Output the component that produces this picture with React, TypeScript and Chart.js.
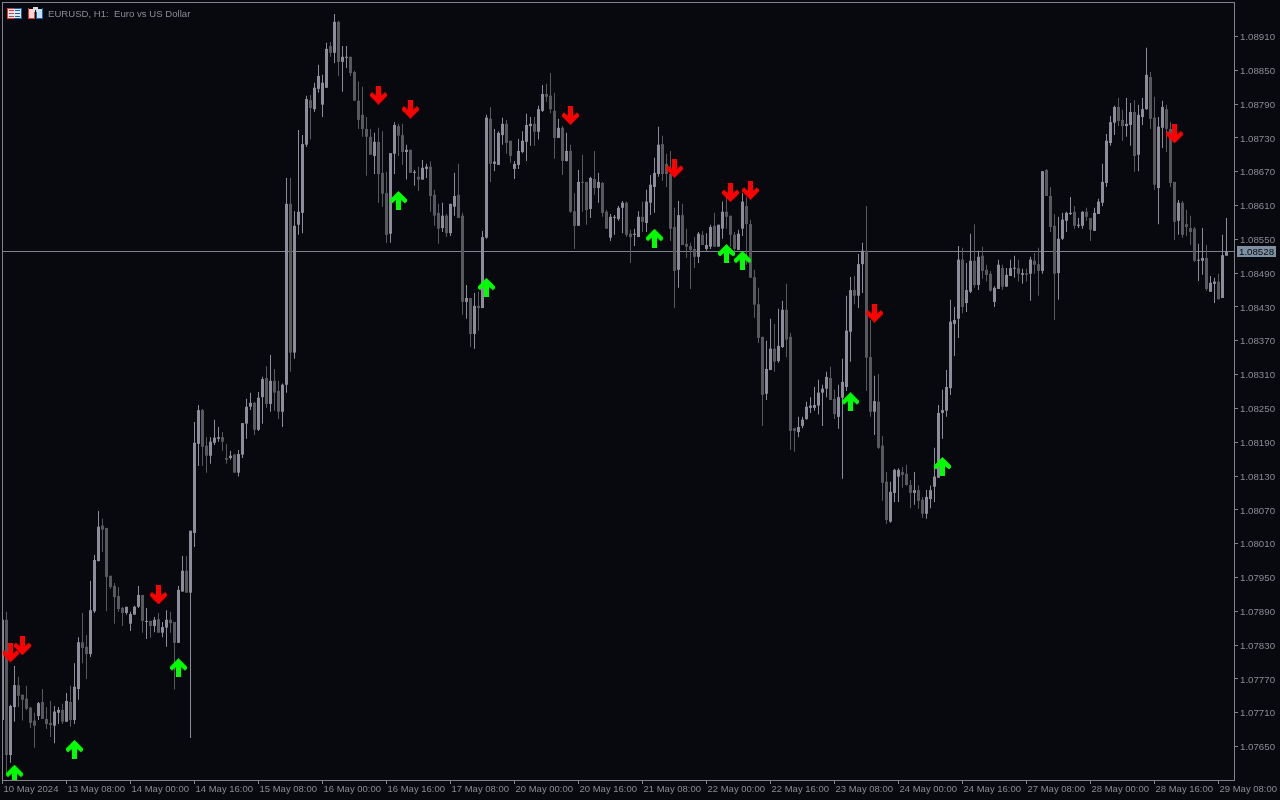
import React, { useEffect, useRef } from "react";
import { Chart, registerables } from "chart.js";

Chart.register(...registerables);

const POINT = 1e-5;

const opens = [
107697,107875,107635,107720,107759,107742,107735,107719,107696,107704,
107729,107699,107692,107687,107710,107715,107694,107729,107697,107752,
107835,107827,107814,107890,107979,108042,108038,107953,107935,107917,
107896,107887,107868,107884,107898,107919,107871,107873,107864,107876,
107852,107861,107875,107871,107834,107925,107962,107923,108029,108187,
108247,108184,108166,108189,108196,108199,108162,108162,108168,108136,
108168,108223,108253,108260,108212,108270,108304,108258,108299,108281,
108244,108292,108613,108349,108576,108597,108718,108797,108781,108817,
108789,108819,108893,108881,108936,108865,108872,108874,108847,108796,
108771,108746,108732,108698,108723,108668,108632,108560,108702,108751,
108735,108705,108709,108668,108661,108656,108675,108679,108629,108597,
108570,108592,108561,108608,108629,108592,108439,108446,108382,108432,
108428,108553,108764,108684,108682,108735,108755,108725,108675,108682,
108705,108723,108751,108755,108741,108778,108808,108805,108778,108730,
108748,108689,108707,108600,108574,108652,108652,108604,108657,108641,
108650,108599,108553,108588,108586,108606,108615,108560,108558,108554,
108590,108579,108615,108643,108666,108719,108684,108666,108572,108496,
108593,108542,108538,108533,108519,108558,108533,108537,108574,108537,
108569,108599,108592,108558,108531,108569,108609,108577,108483,108435,
108377,108276,108318,108356,108334,108359,108425,108377,108215,108208,
108219,108231,108251,108251,108255,108278,108285,108304,108267,108235,
108269,108288,108386,108460,108450,108506,108530,108341,108244,108262,
108184,108120,108049,108100,108129,108137,108134,108114,108100,108105,
108088,108063,108089,108111,108127,108242,108246,108286,108400,108409,
108514,108437,108457,108512,108469,108521,108496,108489,108439,108462,
108499,108466,108485,108498,108499,108487,108490,108489,108512,108506,
108494,108673,108627,108574,108490,108551,108583,108595,108599,108574,
108574,108599,108588,108565,108595,108615,108650,108721,108757,108785,
108762,108751,108753,108776,108700,108767,108781,108838,108766,108641,
108748,108781,108746,108652,108583,108615,108577,108570,108569,108512,
108512,108517,108457,108471,108475,108446,108521,
];

const closes = [
107875,107635,107722,107759,107740,107733,107717,107692,107687,107727,
107699,107690,107688,107712,107715,107694,107731,107697,107756,107835,
107825,107814,107892,107981,108040,108035,107951,107933,107915,107894,
107887,107898,107885,107898,107919,107873,107873,107864,107875,107852,
107862,107875,107869,107834,107928,107962,107923,108033,108189,108247,
108182,108166,108191,108198,108199,108191,108159,108166,108136,108169,
108224,108253,108260,108212,108269,108302,108258,108299,108278,108244,
108292,108613,108349,108574,108599,108719,108799,108783,108819,108840,
108828,108888,108881,108936,108865,108874,108874,108845,108796,108762,
108746,108732,108700,108723,108666,108631,108558,108703,108753,108734,
108705,108709,108668,108670,108656,108677,108679,108627,108592,108569,
108592,108561,108613,108627,108588,108439,108446,108382,108432,108428,
108554,108766,108684,108688,108739,108755,108721,108698,108684,108707,
108725,108753,108755,108741,108781,108808,108803,108781,108730,108748,
108689,108707,108599,108574,108652,108650,108602,108659,108641,108652,
108597,108569,108590,108590,108606,108615,108558,108554,108560,108590,
108581,108617,108647,108668,108718,108666,108666,108569,108494,108593,
108540,108537,108531,108519,108560,108540,108540,108572,108537,108576,
108599,108590,108558,108533,108560,108617,108577,108482,108434,108375,
108274,108320,108356,108333,108361,108425,108372,108210,108210,108217,
108230,108253,108255,108256,108278,108285,108306,108265,108240,108270,
108297,108388,108460,108450,108506,108530,108340,108244,108263,108180,
108118,108052,108102,108141,108141,108132,108114,108100,108105,108086,
108063,108093,108105,108129,108242,108247,108288,108404,108407,108514,
108430,108460,108512,108469,108519,108494,108487,108459,108464,108505,
108466,108487,108499,108499,108489,108490,108487,108514,108505,108494,
108671,108627,108572,108489,108551,108585,108597,108597,108574,108576,
108599,108590,108567,108597,108617,108652,108725,108758,108785,108760,
108751,108755,108776,108698,108771,108781,108842,108764,108647,108750,
108785,108746,108650,108581,108615,108558,108572,108563,108512,108514,
108517,108462,108473,108475,108444,108522,108528,
];

const highs = [
107889,107889,107724,107793,107774,107742,107758,107720,107710,107729,
107752,107720,107731,107722,107720,107726,107745,107758,107798,107844,
107887,107848,107944,107990,108068,108054,108038,107953,107940,107933,
107898,107898,107889,107900,107935,107919,107896,107873,107880,107887,
107871,107892,107889,107871,107935,107988,107988,108033,108226,108256,
108249,108199,108199,108230,108217,108208,108187,108175,108169,108176,
108224,108267,108278,108262,108279,108306,108325,108345,108320,108299,
108294,108659,108659,108600,108744,108735,108805,108806,108828,108860,
108842,108899,108900,108950,108938,108893,108893,108874,108849,108830,
108821,108767,108746,108739,108748,108742,108670,108703,108758,108755,
108755,108718,108709,108673,108679,108691,108684,108688,108638,108613,
108615,108595,108613,108668,108684,108597,108469,108446,108455,108457,
108565,108771,108785,108746,108742,108766,108762,108725,108689,108728,
108742,108773,108767,108767,108787,108824,108826,108845,108810,108764,
108751,108739,108718,108632,108673,108700,108652,108661,108707,108668,
108652,108602,108595,108593,108609,108618,108617,108567,108569,108600,
108617,108638,108664,108695,108750,108734,108702,108707,108606,108618,
108613,108569,108544,108554,108563,108565,108561,108576,108597,108576,
108617,108624,108592,108563,108567,108632,108625,108585,108496,108464,
108377,108370,108409,108400,108427,108441,108471,108384,108215,108235,
108235,108262,108270,108288,108301,108292,108315,108324,108283,108292,
108338,108450,108483,108485,108524,108544,108609,108407,108308,108311,
108201,108137,108120,108143,108144,108146,108150,108123,108137,108113,
108093,108105,108113,108180,108256,108283,108318,108443,108430,108538,
108535,108508,108560,108577,108530,108537,108505,108494,108467,108514,
108505,108499,108514,108521,108514,108498,108498,108519,108526,108535,
108671,108675,108643,108595,108590,108597,108599,108625,108609,108588,
108600,108606,108588,108606,108622,108684,108737,108769,108787,108801,
108780,108801,108792,108797,108789,108801,108890,108847,108803,108767,
108796,108789,108758,108652,108620,108618,108602,108592,108572,108542,
108570,108540,108485,108482,108489,108558,108588,
];

const lows = [
107697,107603,107621,107694,107720,107696,107715,107683,107648,107697,
107699,107681,107667,107656,107690,107690,107694,107685,107690,107733,
107798,107770,107809,107887,107979,107995,107890,107930,107868,107889,
107864,107884,107855,107884,107896,107852,107841,107843,107853,107852,
107844,107827,107852,107751,107834,107925,107923,107665,108004,108148,
108148,108136,108152,108185,108191,108175,108152,108159,108136,108129,
108162,108196,108247,108203,108210,108223,108251,108244,108246,108231,
108217,108278,108315,108338,108558,108561,108714,108727,108776,108810,
108767,108819,108874,108863,108840,108812,108854,108840,108796,108746,
108732,108663,108700,108666,108615,108608,108544,108544,108666,108698,
108682,108656,108668,108645,108636,108656,108659,108599,108574,108542,
108563,108554,108556,108592,108588,108416,108409,108359,108356,108388,
108428,108551,108652,108671,108682,108718,108702,108686,108657,108675,
108703,108689,108716,108716,108727,108776,108794,108774,108693,108730,
108664,108688,108597,108533,108574,108599,108576,108588,108629,108615,
108590,108569,108547,108558,108583,108561,108554,108508,108538,108554,
108563,108563,108593,108597,108661,108654,108643,108547,108428,108464,
108540,108517,108462,108499,108508,108540,108530,108533,108537,108537,
108551,108569,108537,108521,108531,108556,108505,108482,108411,108366,
108219,108265,108318,108315,108331,108357,108341,108176,108173,108199,
108215,108230,108242,108246,108239,108219,108270,108265,108231,108214,
108125,108281,108333,108435,108428,108455,108281,108235,108203,108178,
108086,108045,108047,108084,108084,108109,108113,108073,108079,108072,
108056,108054,108073,108084,108127,108196,108235,108274,108343,108375,
108419,108421,108455,108464,108460,108480,108475,108457,108430,108462,
108460,108466,108485,108482,108475,108471,108475,108441,108489,108450,
108489,108627,108563,108407,108443,108549,108563,108593,108569,108570,
108569,108583,108547,108565,108595,108609,108643,108716,108735,108751,
108725,108732,108716,108670,108671,108753,108780,108746,108638,108577,
108712,108705,108643,108549,108558,108553,108556,108540,108510,108476,
108487,108459,108457,108437,108443,108446,108521,
];

const sellBars = [2, 5, 39, 94, 102, 142, 168, 182, 187, 218, 293];
const sellPrices = [107816, 107829, 107919, 108806, 108781, 108770, 108676, 108633, 108637, 108419, 108737];
const buyBars = [3, 18, 44, 99, 121, 163, 181, 185, 212, 235];
const buyPrices = [107601, 107645, 107790, 108619, 108465, 108552, 108525, 108513, 108262, 108147];

const priceTicks = [
  1.0891, 1.0885, 1.0879, 1.0873, 1.0867, 1.0861, 1.0855, 1.0849, 1.0843, 1.0837, 1.0831,
  1.0825, 1.0819, 1.0813, 1.0807, 1.0801, 1.0795, 1.0789, 1.0783, 1.0777, 1.0771, 1.0765,
];
const timeLabels = [
  "10 May 2024", "13 May 08:00", "14 May 00:00", "14 May 16:00", "15 May 08:00", "16 May 00:00", "16 May 16:00",
  "17 May 08:00", "20 May 00:00", "20 May 16:00", "21 May 08:00", "22 May 00:00", "22 May 16:00", "23 May 08:00",
  "24 May 00:00", "24 May 16:00", "27 May 08:00", "28 May 00:00", "28 May 16:00", "29 May 08:00",
];
const BARS_PER_LABEL = 16;
const lastPrice = 1.08528;
const titleText = "EURUSD, H1:  Euro vs US Dollar";

const BG = "#08090e";
const FRAME = "#83838d";
const UP = "#8c8c9a";
const DOWN = "#58585f";
const TEXT = "#8b8b94";
const FONT = "'Liberation Sans'";

function arrowCanvas(color: string, down: boolean) {
  const c = document.createElement("canvas");
  c.width = 17;
  c.height = 19;
  const g = c.getContext("2d")!;
  const pts = [[6, 0], [11, 0], [11, 10], [15, 6.5], [17, 8.5], [17, 10.5], [8.5, 19], [0, 10.5], [0, 8.5], [2, 6.5], [6, 10]];
  g.fillStyle = color;
  g.beginPath();
  pts.forEach(([x, y], i) => {
    const py = down ? y : 19 - y;
    if (i === 0) g.moveTo(x, py);
    else g.lineTo(x, py);
  });
  g.closePath();
  g.fill();
  return c;
}

const mtPlugin = {
  id: "mtPlugin",
  beforeDraw(chart: any) {
    const g = chart.ctx;
    g.save();
    g.fillStyle = BG;
    g.fillRect(0, 0, chart.width, chart.height);
    g.restore();
  },
  beforeDatasetsDraw(chart: any) {
    const g = chart.ctx;
    const { left, right } = chart.chartArea;
    const y = Math.floor(chart.scales.y.getPixelForValue(lastPrice)) + 0.5;
    g.save();
    g.strokeStyle = FRAME;
    g.lineWidth = 1;
    g.beginPath();
    g.moveTo(left, y);
    g.lineTo(right, y);
    g.stroke();
    g.restore();
  },
  afterDraw(chart: any) {
    const g = chart.ctx;
    const { left, right, top, bottom } = chart.chartArea;
    g.save();
    g.strokeStyle = FRAME;
    g.lineWidth = 1;
    g.strokeRect(left + 0.5, top + 0.5, right - left, bottom - top);

    // last price tag
    const ly = Math.floor(chart.scales.y.getPixelForValue(lastPrice));
    g.fillStyle = "#7e91a3";
    g.fillRect(1237, ly - 5, 39, 11);
    g.fillStyle = "#06070b";
    g.font = `9.7px ${FONT}`;
    g.textBaseline = "middle";
    g.textAlign = "left";
    g.fillText(lastPrice.toFixed(5), 1239, ly + 1);

    // toolbar icons
    g.fillStyle = "#e0e6f0";
    g.fillRect(8, 8, 14, 11);
    g.fillStyle = "#e23a32";
    g.fillRect(7, 8, 1, 11);
    g.fillRect(7, 8, 7, 1);
    g.fillRect(7, 18, 7, 1);
    for (const sy of [10, 13, 16]) g.fillRect(9, sy, 5, 1);
    g.fillStyle = "#1a5fa8";
    g.fillRect(21, 8, 1, 11);
    g.fillRect(14, 8, 7, 1);
    g.fillRect(14, 18, 7, 1);
    for (const sy of [10, 13, 16]) g.fillRect(15, sy, 5, 1);

    g.fillStyle = "#ffd6d2";
    g.fillRect(29, 9, 6, 9);
    g.fillStyle = "#bfe2fa";
    g.fillRect(36, 9, 6, 9);
    g.fillStyle = "#e23a32";
    g.fillRect(28, 8, 1, 11);
    g.fillRect(28, 18, 7, 1);
    g.fillRect(34, 12, 1, 7);
    g.fillStyle = "#1a5fa8";
    g.fillRect(36, 12, 1, 7);
    g.fillRect(36, 18, 7, 1);
    g.fillRect(42, 8, 1, 11);
    g.fillStyle = "#d8d8e0";
    g.fillRect(33, 7, 5, 3);

    g.fillStyle = TEXT;
    g.font = `9.6px ${FONT}`;
    g.textBaseline = "middle";
    g.fillText(titleText, 48, 14);
    g.restore();
  },
};

export default function App() {
  const ref = useRef<HTMLCanvasElement>(null);
  useEffect(() => {
    const idx = opens.map((_, i) => i);
    const colors = idx.map((i) => (closes[i] >= opens[i] ? UP : DOWN));
    const chart = new Chart(ref.current!, {
      type: "bar",
      data: {
        datasets: [
          {
            type: "line",
            label: "Sell",
            data: sellBars.map((b, i) => ({ x: b, y: sellPrices[i] * POINT })),
            showLine: false,
            pointStyle: arrowCanvas("#ff0000", true),
            pointRadius: 9,
          },
          {
            type: "line",
            label: "Buy",
            data: buyBars.map((b, i) => ({ x: b, y: buyPrices[i] * POINT })),
            showLine: false,
            pointStyle: arrowCanvas("#00ff00", false),
            pointRadius: 9,
          },
          {
            label: "Body",
            data: idx.map((i) => ({ x: i, y: [opens[i] * POINT, closes[i] * POINT] })),
            backgroundColor: colors,
            barThickness: 3,
            minBarLength: 1,
            grouped: false,
            inflateAmount: 0,
          },
          {
            label: "Wick",
            data: idx.map((i) => ({ x: i, y: [lows[i] * POINT, highs[i] * POINT] })),
            backgroundColor: colors,
            barThickness: 1,
            grouped: false,
            inflateAmount: 0,
          },
        ] as any,
      },
      options: {
        responsive: false,
        animation: false,
        events: [],
        layout: { autoPadding: false, padding: { left: 2, top: 2, right: 0, bottom: 0 } },
        plugins: { legend: { display: false }, tooltip: { enabled: false }, title: { display: false } },
        scales: {
          x: {
            type: "linear",
            offset: false,
            min: -0.125,
            max: 307.875,
            border: { display: false },
            grid: { offset: false, drawOnChartArea: false, drawTicks: true, tickLength: 4, color: FRAME },
            afterBuildTicks: (s: any) => {
              s.ticks = timeLabels.map((_, i) => ({ value: i * BARS_PER_LABEL }));
            },
            afterFit: (s: any) => {
              s.height = 20;
              s.paddingLeft = 0;
              s.paddingRight = 0;
            },
            ticks: {
              autoSkip: false,
              maxRotation: 0,
              minRotation: 0,
              align: "start",
              padding: 0,
              labelOffset: 1,
              color: TEXT,
              font: { family: FONT, size: 9.5 },
              callback: (v: any) => timeLabels[Math.round(Number(v) / BARS_PER_LABEL)],
            },
          },
          y: {
            type: "linear",
            position: "right",
            min: 1.075906,
            max: 1.089712,
            border: { display: false },
            grid: { drawOnChartArea: false, drawTicks: true, tickLength: 4, color: FRAME },
            afterBuildTicks: (s: any) => {
              s.ticks = priceTicks.map((value) => ({ value }));
            },
            afterFit: (s: any) => {
              s.width = 46;
              s.paddingTop = 0;
              s.paddingBottom = 0;
            },
            ticks: {
              autoSkip: false,
              padding: 2,
              labelOffset: 1,
              color: TEXT,
              font: { family: FONT, size: 9.7 },
              callback: (v: any) => Number(v).toFixed(5),
            },
          },
        },
      } as any,
      plugins: [mtPlugin],
    });
    return () => chart.destroy();
  }, []);
  return (
    <canvas
      ref={ref}
      width={1280}
      height={800}
      style={{ position: "fixed", left: 0, top: 0, width: 1280, height: 800, display: "block" }}
    />
  );
}
